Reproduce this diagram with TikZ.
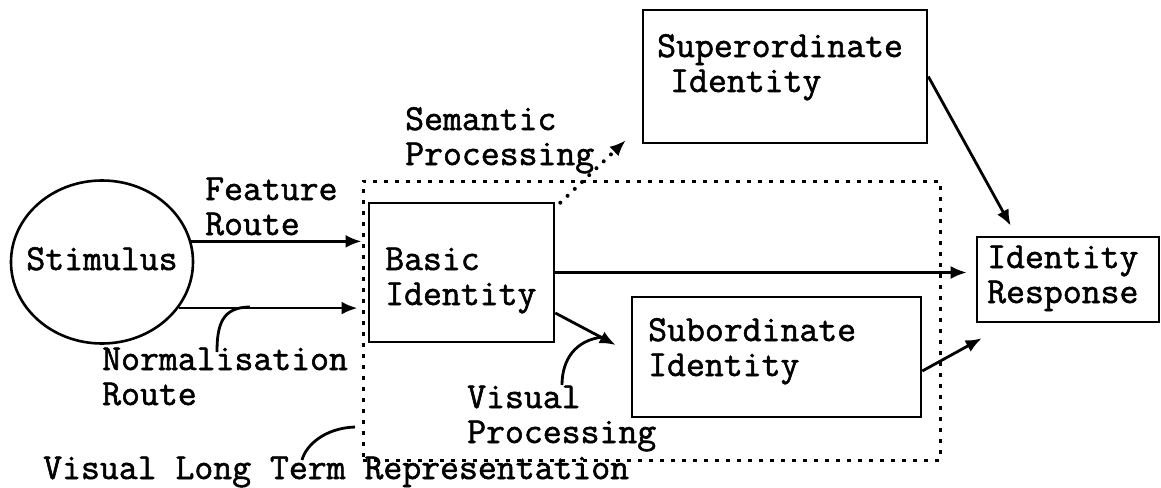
\documentclass[tikz,border=0pt]{standalone}
\usepackage{fontspec}
\setmainfont{Latin Modern Mono}[FakeBold=1.5]
\usetikzlibrary{arrows.meta,shapes.geometric,calc}

\begin{document}
\begin{tikzpicture}[x=1pt,y=-1pt,
    box/.style={draw, line width=2.6pt, inner sep=0pt},
    txt/.style={inner sep=0pt, align=left, anchor=base west, font=\fontsize{36.7}{35}\selectfont},
    arr/.style={line width=2.8pt, -{Latex[length=16pt,width=13pt]}},
    dotarr/.style={line width=4pt, line cap=round, dash pattern=on 0pt off 10pt, -{Latex[length=16pt,width=13pt]}},
    callout/.style={line width=2.8pt}]
  \useasboundingbox (0,0) rectangle (1161,487);

  % Dotted region round the visual representations
  \node[draw, line width=3pt, dash pattern=on 4pt off 7pt,
        minimum width=577, minimum height=279] (vltr) at (651.5,320.5) {};

  % Stimulus and the four boxes
  \node[draw, ellipse, line width=2.6pt, minimum width=182, minimum height=163] (stim) at (102,262) {};
  \node[box, minimum width=185, minimum height=139] (basic) at (461.5,272.5) {};
  \node[box, minimum width=284, minimum height=133] (super) at (785,76.5) {};
  \node[box, minimum width=289, minimum height=120] (sub) at (776.5,357) {};
  \node[box, minimum width=182, minimum height=85] (resp) at (1068,279.5) {};

  % Texts (placed by the baseline of their last line)
  \node[txt, anchor=base] (stimlbl) at (102,270) {Stimulus};
  \node[txt] (featlbl) at (205,235) {Feature\\Route};
  \node[txt] (normlbl) at (102,405) {Normalisation\\Route};
  \node[txt] (semlbl) at (405,165) {Semantic\\Processing};
  \node[txt] (suplbl) at (657,92) {Superordinate\\\hspace*{13pt}Identity};
  \node[txt] (baslbl) at (385,305) {Basic\\Identity};
  \node[txt] (sublbl) at (648,376) {Subordinate\\Identity};
  \node[txt] (visproclbl) at (467,443) {Visual\\Processing};
  \node[txt] (resplbl) at (987,303) {Identity\\Response};
  \node[txt] (vltrlbl) at (43,479) {Visual Long Term Representation};

  % Routes into the basic level
  \draw[arr] (stim.13) -- (stim.13 -| vltr.west);
  \draw[arr] (stim.-31) -- ($(stim.-31 -| vltr.west)+(-4,0)$);

  % Out of the basic level
  \draw[arr] (basic.east) -- ($(basic.east -| resp.west)+(-9,0)$);
  \draw[arr] ($(basic.east)+(0,40.5)$) -- ($(sub.west)+(-15,-12)$);
  \draw[dotarr] ($(basic.north east)+(5,1)$) -- ($(super.south west)+(-16,-4)$);

  % Into the response
  \draw[arr] (super.east) -- ($(resp.north west)+(35,-10)$);
  \draw[arr] ($(sub.east)+(0,14)$) -- ($(resp.south west)+(6,15)$);

  % Label pointers
  \coordinate (normfoot) at (250,307);
  \coordinate (normtop) at (217,352);
  \coordinate (visfoot) at (603,337);
  \coordinate (vistop) at (562,385);
  \coordinate (vltrfoot) at (355,427);
  \coordinate (vltrtop) at (302,460);
  \draw[callout] (normfoot) .. controls (222,307) and (217,325) .. (normtop);
  \draw[callout] (visfoot) .. controls (575,340) and (562,360) .. (vistop);
  \draw[callout] (vltrfoot) .. controls (325,428) and (306,445) .. (vltrtop);
\end{tikzpicture}
\end{document}
